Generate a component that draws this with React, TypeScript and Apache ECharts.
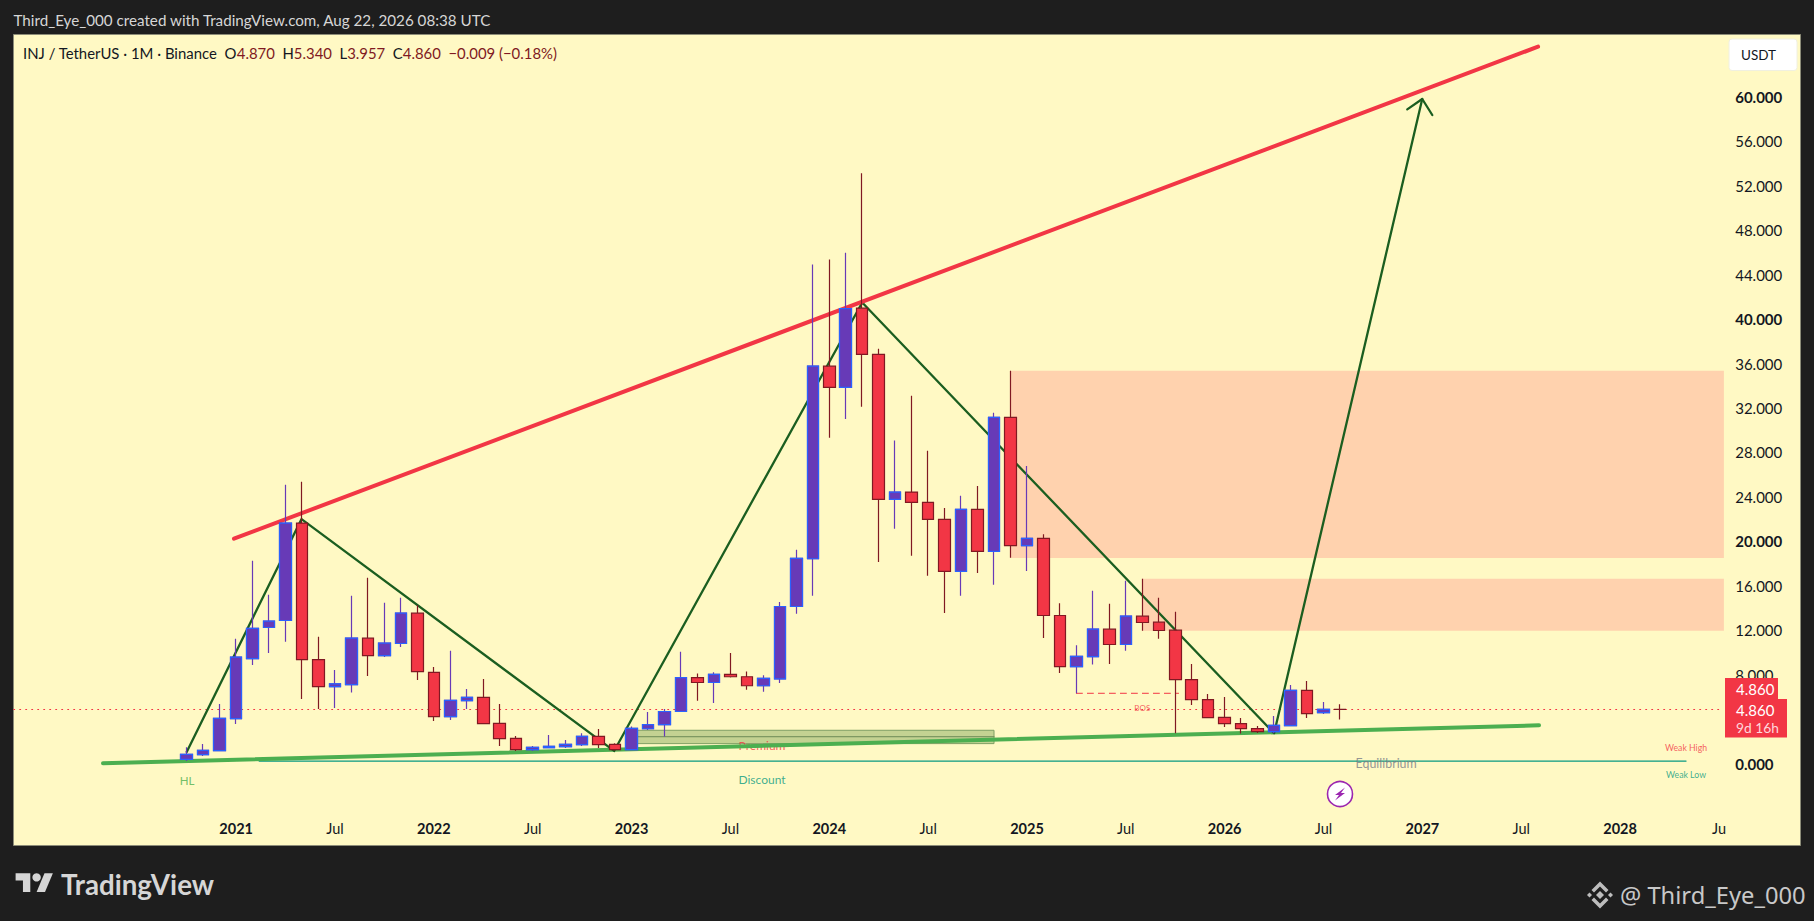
import React, { useEffect, useRef } from "react";
import * as echarts from "echarts";

// ---------- data ----------
const firstCandleSlot = 10; // Oct 2020 sits in slot 10 of the month axis (Dec 2019 = slot 0)
const firstLabelSlot = 13; // Jan 2021 is the first labelled month
const openValues = [0.38,0.79,1.16,4.04,9.44,12.24,12.87,21.64,9.35,6.92,7.10,11.28,9.71,10.80,13.53,8.21,4.22,5.66,5.96,3.62,2.27,1.25,1.43,1.52,1.70,2.45,1.73,1.25,3.13,3.50,4.68,7.73,7.29,8.03,7.81,7.00,7.62,14.13,18.43,35.76,33.85,40.98,36.83,23.77,24.43,23.51,21.97,17.30,22.88,19.10,31.16,19.61,20.27,13.32,8.72,9.62,12.09,10.71,13.26,12.72,12.00,7.55,5.75,4.16,3.59,3.14,2.87,3.41,6.59,4.58,4.87];
const closeValues = [0.83,1.19,4.07,9.57,12.17,12.81,21.64,9.35,6.92,7.16,11.28,9.71,10.83,13.53,8.27,4.22,5.69,5.96,3.59,2.24,1.25,1.46,1.55,1.73,2.45,1.70,1.25,3.17,3.50,4.68,7.73,7.29,8.03,7.81,7.00,7.66,14.13,18.47,35.76,33.85,40.94,36.83,23.77,24.43,23.51,21.97,17.30,22.88,19.10,31.16,19.61,20.27,13.32,8.72,9.65,12.09,10.71,13.26,12.69,11.97,7.55,5.75,4.13,3.59,3.14,2.87,3.44,6.59,4.49,4.88,4.86];
const lowValues = [0.23,0.67,1.16,3.56,8.87,9.95,10.95,5.81,4.91,5.00,6.38,7.88,9.59,10.49,7.52,3.83,3.92,4.91,3.59,1.58,1.13,1.13,1.43,1.40,1.58,1.40,1.16,1.25,3.02,2.44,4.68,5.64,5.45,7.73,6.63,6.45,7.25,13.47,15.09,29.32,31.01,32.12,18.14,21.12,18.69,16.89,13.54,15.09,17.15,16.08,18.51,17.33,11.30,8.15,6.32,8.90,8.96,10.14,11.94,11.22,2.72,5.27,4.13,3.29,2.69,2.75,2.72,3.41,4.10,4.46,3.957];
const highValues = [1.46,1.76,5.36,11.22,18.24,15.18,25.09,25.36,11.40,8.42,15.09,16.71,14.46,14.91,14.25,8.69,10.14,6.71,7.61,5.36,2.48,1.58,2.57,2.12,2.72,3.11,1.82,3.32,4.64,4.90,10.05,8.10,8.21,9.94,8.28,7.95,14.54,19.24,44.92,45.36,45.98,53.12,37.34,29.07,33.11,28.15,23.00,24.10,24.98,31.57,35.35,26.78,20.64,14.43,10.65,15.54,14.37,16.44,16.62,14.91,13.65,8.96,6.26,5.99,4.10,3.38,4.28,7.07,7.43,5.54,5.34];

const priceTicks = [0,8,12,16,20,24,28,32,36,40,44,48,52,56,60];
const boldPriceTicks = [0,20,40,60];
const lastPrice = 4.86;

// drawings: [candle index, price]
const resistanceLine = [[2.87,20.23],[82.02,64.52]];
const supportLine = [[-5.08,0.02],[82.08,3.44]];
const swingPath = [[0,1.04],[6.97,22.0],[25.94,1.13],[41,41.5],[66,2.72],[74.99,59.81]];
const arrowHead = [[74.08,58.88],[74.99,59.81],[75.6,58.37]];
const equilibriumLine = [[4.4,0.22],[91,0.22]];
const bosLine = [[54,6.32],[60.2,6.32]];
const lastPriceLine = [[-10.5,lastPrice],[93.25,lastPrice]];
const fvgMidLine = [[27,2.41],[49,2.41]];
const upperZone = [50,35.35,93.3,18.5];
const lowerZone = [58,16.62,93.3,11.94];
const fvgBox = [27,2.99,49,1.79];
const annotations: [string, number, number][] = [
  ["HL",0.02,-1.49],["Discount",34.92,-1.46],["Premium",34.92,1.65],["Equilibrium",72.8,0.03],
  ["BOS",58,5.0],["Weak High",91,1.42],["Weak Low",91,-1.01],
];
const annotationStyle: Record<string,{color:string;size:number}> = {
  HL:{color:"#4CAF50",size:11.5},Discount:{color:"#089981",size:12},Premium:{color:"#F23645",size:12},
  Equilibrium:{color:"#787B86",size:12.4},BOS:{color:"#F23645",size:8},
  "Weak High":{color:"#F23645",size:8.7},"Weak Low":{color:"#089981",size:8.7},
};

const headerText = "Third_Eye_000 created with TradingView.com, Aug 22, 2026 08:38 UTC";
const watermark = "@ Third_Eye_000";

// month axis labels
const monthSlots = 104;
const categories: string[] = [];
for (let i = 0; i < monthSlots; i++) {
  const m = (11 + i) % 12;
  const y = 2019 + Math.floor((11 + i) / 12);
  const label = m === 0 ? String(y) : m === 6 ? (i === monthSlots - 1 ? "Ju" : "Jul") : "";
  categories.push(i < firstLabelSlot ? "" : label);
}

const FONT = "Lato, 'Noto Sans', sans-serif";
const W = 1814, H = 921;

function lineSeries(data: number[][], color: string, width: number, z: number, type: any = "solid", extra: any = {}) {
  return {
    type: "line", xAxisIndex: 1, yAxisIndex: 0, data, symbol: "none", silent: true, z, animation: false,
    lineStyle: { color, width, type, cap: "round", join: "round" }, ...extra,
  };
}
function areaSeries(b: number[], itemStyle: any) {
  return {
    type: "line", xAxisIndex: 1, yAxisIndex: 0, data: [[b[0], b[1]]], symbol: "none", silent: true, z: 1,
    lineStyle: { width: 0 },
    markArea: { silent: true, itemStyle, label: { show: false }, data: [[{ xAxis: b[0], yAxis: b[1] }, { xAxis: b[2], yAxis: b[3] }]] },
  };
}

export default function App() {
  const ref = useRef<HTMLDivElement>(null);
  useEffect(() => {
    document.body.style.margin = "0";
    document.body.style.background = "#1E1E1E";
    const chart = echarts.init(ref.current!, undefined, { renderer: "svg" });
    const candles = openValues.map((o, i) => [i + firstCandleSlot, o, closeValues[i], lowValues[i], highValues[i]]);
    const upBodies = openValues
      .map((o, i) => [i + firstCandleSlot, o, closeValues[i], o, closeValues[i]])
      .filter((d) => d[2] > d[1]);
    const panelTop = 34, panelBottom = 845.7, pxPerUnit = 11.11, zeroY = 763.5;
    const gridLeft = 13.7, band = 16.476;
    const textC = "#131722";
    const ohlcEncode = { x: 0, y: [1, 2, 3, 4] };
    chart.setOption({
      animation: false,
      backgroundColor: "#1E1E1E",
      grid: { left: gridLeft, top: panelTop, width: band * monthSlots, height: panelBottom - panelTop, containLabel: false },
      xAxis: [
        {
          type: "category", data: categories, boundaryGap: true, position: "bottom",
          axisLine: { show: false }, axisTick: { show: false }, splitLine: { show: false },
          axisLabel: {
            inside: true, margin: 10, interval: (i: number) => categories[i] !== "", hideOverlap: false,
            fontFamily: FONT, fontSize: 14.5, color: textC,
            formatter: (v: string) => (/^\d{4}$/.test(v) ? `{b|${v}}` : v),
            rich: { b: { fontWeight: 700, fontSize: 14.5, fontFamily: FONT, color: textC } },
          },
        },
        { type: "value", min: -10.5, max: 93.5, show: false, position: "top" },
      ],
      yAxis: {
        type: "value", position: "right",
        min: (zeroY - panelBottom) / pxPerUnit, max: (zeroY - panelTop) / pxPerUnit,
        axisLine: { show: false }, axisTick: { show: false }, splitLine: { show: false },
        axisLabel: {
          customValues: priceTicks, margin: 8, fontFamily: FONT, fontSize: 15, color: textC,
          formatter: (v: number) => (boldPriceTicks.includes(v) ? `{b|${v.toFixed(3)}}` : v.toFixed(3)),
          rich: { b: { fontWeight: 700, fontSize: 15, fontFamily: FONT, color: textC } },
        },
      },
      series: [
        areaSeries(upperZone, { color: "#FFD2AE" }),
        areaSeries(lowerZone, { color: "#FFD2AE" }),
        areaSeries(fvgBox, { color: "rgba(56,118,29,0.3)", borderColor: "#7F9F65", borderWidth: 1 }),
        lineSeries(fvgMidLine, "#6B8A55", 1, 2),
        {
          type: "scatter", xAxisIndex: 1, yAxisIndex: 0, z: 2, silent: true, symbolSize: 1,
          itemStyle: { color: "transparent" },
          data: annotations.map((a) => ({
            value: [a[1], a[2]], name: a[0],
            label: {
              show: true, position: "inside", formatter: a[0], fontFamily: FONT,
              fontSize: annotationStyle[a[0]].size, color: annotationStyle[a[0]].color,
            },
          })),
        },
        lineSeries(lastPriceLine, "#F23645", 1, 2, [1, 5]),
        lineSeries(equilibriumLine, "#089981", 1.3, 2),
        lineSeries(bosLine, "#F23645", 1, 2, [6, 5]),
        lineSeries(supportLine, "#4CAF50", 4, 3),
        lineSeries(swingPath, "#1B5E20", 2.3, 3),
        lineSeries(arrowHead, "#1B5E20", 2.3, 3),
        lineSeries(resistanceLine, "#F23645", 4, 3),
        {
          type: "candlestick", xAxisIndex: 0, yAxisIndex: 0, barWidth: 12, z: 5, silent: true, encode: ohlcEncode,
          itemStyle: { color: "#673AB7", color0: "#F23645", borderColor: "#673AB7", borderColor0: "#801922", borderWidth: 1.2 },
          data: candles,
        },
        {
          type: "candlestick", xAxisIndex: 0, yAxisIndex: 0, barWidth: 12, z: 6, silent: true, encode: ohlcEncode,
          itemStyle: { color: "#673AB7", color0: "#673AB7", borderColor: "#2962FF", borderColor0: "#2962FF", borderWidth: 1.2 },
          data: upBodies,
        },
      ],
      graphic: { elements: [
        { type: "rect", z: -10, shape: { x: 13.5, y: 34.5, width: 1787, height: 811 }, style: { fill: "#FFF9C4", stroke: "#8C8C78", lineWidth: 1 } },
        { type: "text", z: 50, x: 13.5, y: 20, style: { text: headerText, fill: "#D6D6D6", font: `15.2px ${FONT}`, textVerticalAlign: "middle" } },
        { type: "text", z: 50, x: 23, y: 53, style: {
            text: "{k|INJ / TetherUS · 1M · Binance  O}{v|4.870}{k|  H}{v|5.340}{k|  L}{v|3.957}{k|  C}{v|4.860}{v|  −0.009 (−0.18%)}",
            font: `14.9px ${FONT}`, textVerticalAlign: "middle",
            rich: { k: { fill: textC, font: `14.9px ${FONT}` }, v: { fill: "#801922", font: `14.9px ${FONT}` } },
        } },
        { type: "rect", z: 50, shape: { x: 1729, y: 39, width: 68, height: 31.5, r: 3 }, style: { fill: "#FFFFFF", stroke: "#F0F0E0" } },
        { type: "text", z: 51, x: 1741, y: 55, style: { text: "USDT", fill: textC, font: `13.5px ${FONT}`, textVerticalAlign: "middle" } },
        { type: "rect", z: 50, shape: { x: 1725, y: 678, width: 53, height: 21 }, style: { fill: "#F23645" } },
        { type: "rect", z: 50, shape: { x: 1725, y: 699, width: 62, height: 38.5 }, style: { fill: "#F23645" } },
        { type: "text", z: 51, x: 1736, y: 689, style: { text: "4.860", fill: "#FFFFFF", font: `15px ${FONT}`, textVerticalAlign: "middle" } },
        { type: "text", z: 51, x: 1736, y: 709.7, style: { text: "4.860", fill: "#FFFFFF", font: `15px ${FONT}`, textVerticalAlign: "middle" } },
        { type: "text", z: 51, x: 1736, y: 727.7, style: { text: "9d 16h", fill: "#FFD7DB", font: `13.8px ${FONT}`, textVerticalAlign: "middle" } },
        { type: "circle", z: 50, shape: { cx: 1340, cy: 794, r: 12.5 }, style: { fill: "#FFFFFF", stroke: "#9C27B0", lineWidth: 1.6 } },
        { type: "polygon", z: 51, x: 1340, y: 794, shape: { points: [[5,-6.5],[-5,1],[-1,1],[-5,6.5],[5,-1],[1,-1]] }, style: { fill: "#9C27B0" } },
        { type: "group", z: 50, x: 15.6, y: 869, scaleX: 1.05, scaleY: 1.05, children: [
          { type: "polygon", z: 50, shape: { points: [[0,4],[14,4],[14,22],[7,22],[7,11],[0,11]] }, style: { fill: "#D6D6D6" } },
          { type: "polygon", z: 50, shape: { points: [[20,22],[27.5,4],[35.5,4],[28,22]] }, style: { fill: "#D6D6D6" } },
          { type: "circle", z: 50, shape: { cx: 20, cy: 8, r: 4 }, style: { fill: "#D6D6D6" } },
        ] },
        { type: "text", z: 50, x: 61, y: 884, style: { text: "TradingView", fill: "#D6D6D6", font: `700 27.7px ${FONT}`, textVerticalAlign: "middle" } },
        { type: "group", z: 50, x: 1600, y: 895, children: [
          { type: "polygon", z: 50, shape: { points: [[0,-4],[4,0],[0,4],[-4,0]] }, style: { fill: "#BDBDBD" } },
          { type: "polygon", z: 50, shape: { points: [[-13,0],[-10.5,-2.5],[-8,0],[-10.5,2.5]] }, style: { fill: "#BDBDBD" } },
          { type: "polygon", z: 50, shape: { points: [[13,0],[10.5,-2.5],[8,0],[10.5,2.5]] }, style: { fill: "#BDBDBD" } },
          { type: "polygon", z: 50, shape: { points: [[0,-13.5],[8.5,-5],[6,-2.5],[0,-8.5],[-6,-2.5],[-8.5,-5]] }, style: { fill: "#BDBDBD" } },
          { type: "polygon", z: 50, shape: { points: [[0,13.5],[8.5,5],[6,2.5],[0,8.5],[-6,2.5],[-8.5,5]] }, style: { fill: "#BDBDBD" } },
        ] },
        { type: "text", z: 50, x: 1620, y: 895, style: { text: watermark, fill: "#C8C8C8", font: `23.7px 'Noto Sans', sans-serif`, textVerticalAlign: "middle" } },
      ] },
    });
    return () => chart.dispose();
  }, []);
  return <div ref={ref} style={{ width: W, height: H, position: "absolute", left: 0, top: 0, overflow: "hidden" }} />;
}
